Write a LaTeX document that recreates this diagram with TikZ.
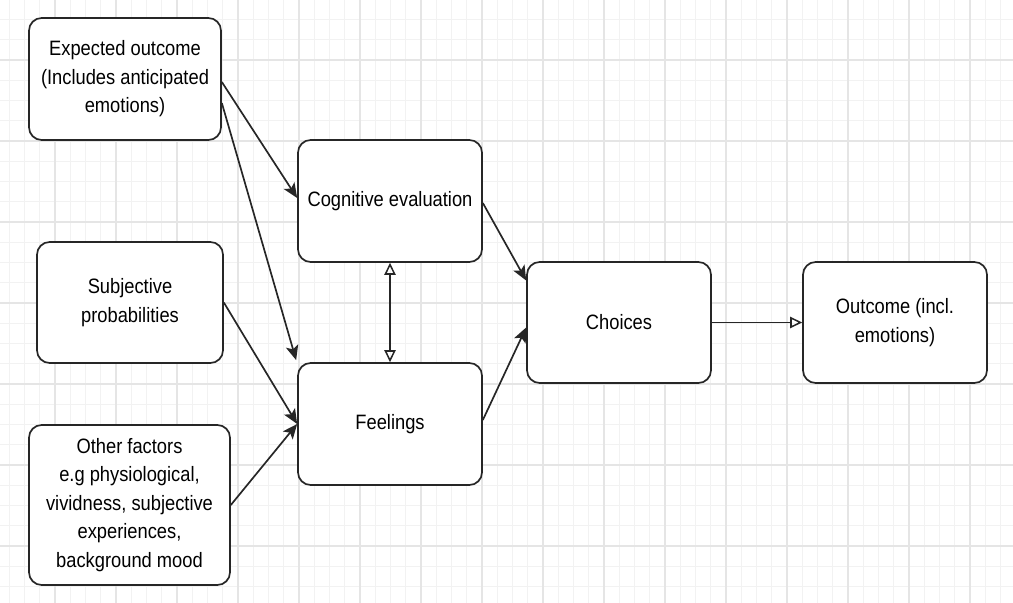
\documentclass[tikz,border=0pt]{standalone}
\usepackage{fontspec}
\setmainfont[FakeStretch=0.88]{Liberation Sans}
\usetikzlibrary{arrows.meta,calc}
\newcommand{\px}{0.025cm}
\tikzset{
    box/.style={draw=black!85, line width=1.2pt, rounded corners=9pt, fill=white,
        align=center, inner sep=0pt, font=\fontsize{14.8pt}{20.3pt}\selectfont},
    link/.style={draw=black!85, line width=1.2pt, -{Stealth[length=10.5pt,width=9pt,inset=2.5pt]}},
    openlink/.style={draw=black!85, line width=1.1pt, -{Triangle[open,length=8.5pt,width=8pt]}},
    bothlink/.style={draw=black!85, line width=1.1pt, {Triangle[open,length=8.5pt,width=8pt]}-{Triangle[open,length=8.5pt,width=8pt]}},
}

\begin{document}
\begin{tikzpicture}[x=\px,y=-\px]
    \useasboundingbox (0,0) rectangle (1013,603);
    % background grid
    \begin{scope}
        \clip (0,0) rectangle (1013,603);
        \foreach \i in {0,...,67}
            \draw[black!5, line width=0.6pt] ({-6+15.25*\i},0) -- ({-6+15.25*\i},603);
        \foreach \j in {0,...,31}
            \draw[black!5, line width=0.6pt] (0,{-21+20.25*\j}) -- (1013,{-21+20.25*\j});
        \foreach \i in {0,...,16}
            \draw[black!10, line width=0.8pt] ({-6+61*\i},0) -- ({-6+61*\i},603);
        \foreach \j in {0,...,7}
            \draw[black!10, line width=0.8pt] (0,{-21+81*\j}) -- (1013,{-21+81*\j});
    \end{scope}

    % inputs
    \node[box, minimum width=192*\px, minimum height=122*\px] (expect) at (125,79)
        {Expected outcome\\(Includes anticipated\\emotions)};
    \node[box, minimum width=186*\px, minimum height=121*\px] (subj) at (130,302.5)
        {Subjective\\probabilities};
    \node[box, minimum width=201*\px, minimum height=160*\px] (other) at (129.5,505)
        {Other factors\\e.g physiological,\\vividness, subjective\\experiences,\\background mood};

    % middle
    \node[box, minimum width=184*\px, minimum height=122*\px] (cog) at (390,201) {Cognitive evaluation};
    \node[box, minimum width=184*\px, minimum height=122*\px] (feel) at (390,424) {Feelings};

    % right
    \node[box, minimum width=184*\px, minimum height=121*\px] (choice) at (619,322.5) {Choices};
    \node[box, minimum width=184*\px, minimum height=121*\px] (outcome) at (895,322.5) {Outcome (incl.\\emotions)};

    % connectors
    \draw[link] ($(expect.east)+(0,3)$) -- ($(cog.west)+(0,-3)$);
    \draw[link] ($(expect.east)+(0,24)$) -- ($(feel.north west)+(-1,-2)$);
    \draw[link] (subj.east) -- (feel.west);
    \draw[link] (other.east) -- (feel.west);
    \draw[link] ($(cog.east)+(0,2)$) -- ($(choice.west)+(0,-42)$);
    \draw[link] ($(feel.east)+(0,-4)$) -- ($(choice.west)+(0,5)$);
    \draw[bothlink] (cog) -- (feel);
    \draw[openlink] (choice) -- (outcome);
\end{tikzpicture}
\end{document}
